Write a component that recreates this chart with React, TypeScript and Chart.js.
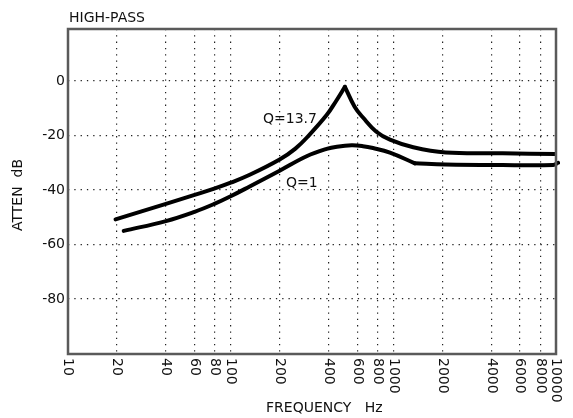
import { useEffect, useRef } from 'react';
import { Chart, registerables } from 'chart.js';

Chart.register(...registerables);

const xTickValues = [10, 20, 40, 60, 80, 100, 200, 400, 600, 800, 1000, 2000, 4000, 6000, 8000, 10000];
const yTickValues = [-80, -60, -40, -20, 0];

// Q = 13.7 curve (peak is a cusp at index q137PeakIndex)
const q137Freq = [19.6, 40, 60, 80, 100, 130, 200, 250, 300, 389, 443, 504, 578, 653, 786, 953, 1326, 2100, 4700, 10000];
const q137Db = [-50.8, -45.1, -41.8, -39.4, -37.3, -34.5, -28.8, -24.8, -20.2, -12.5, -7.5, -2.1, -9.4, -13.5, -18.6, -21.5, -24.3, -26.2, -26.5, -26.8];
const q137PeakIndex = 11;

// Q = 1 curve (corner at index q1KinkIndex)
const q1Freq = [22, 40, 60, 80, 100, 130, 200, 293, 389, 450, 554, 650, 750, 953, 1357, 2100, 4700, 9600, 10300];
const q1Db = [-55.0, -51.4, -48.0, -45.0, -42.3, -38.8, -32.9, -27.6, -24.9, -24.1, -23.6, -23.9, -24.6, -26.3, -30.2, -30.6, -30.8, -30.8, -30.0];
const q1KinkIndex = 14;

const FONT = '"DejaVu Sans", sans-serif';
const TEXT = '#111';

const toPoints = (fs: number[], ds: number[], from: number, to: number) =>
  fs.slice(from, to).map((f, i) => ({ x: f, y: ds[from + i] }));

const textPlugin = {
  id: 'textPlugin',
  afterDraw(chart: any) {
    const { ctx, chartArea } = chart;
    const xs = chart.scales.x;
    ctx.save();
    ctx.strokeStyle = '#5a5a5a';
    ctx.lineWidth = 2.5;
    ctx.strokeRect(chartArea.left, chartArea.top, chartArea.right - chartArea.left, chartArea.bottom - chartArea.top);

    ctx.fillStyle = TEXT;
    ctx.font = `14px ${FONT}`;
    xTickValues.forEach((v) => {
      const px = xs.getPixelForValue(v);
      ctx.save();
      ctx.translate(px, chartArea.bottom + 4);
      ctx.rotate(Math.PI / 2);
      ctx.textAlign = 'left';
      ctx.textBaseline = 'middle';
      ctx.fillText(String(v), 0, 0);
      ctx.restore();
    });

    ctx.textAlign = 'left';
    ctx.textBaseline = 'middle';
    ctx.fillText('HIGH-PASS', 69, 18);
    ctx.fillText('FREQUENCY   Hz', 266, 408);
    ctx.fillText('Q=13.7', 263, 119);
    ctx.fillText('Q=1', 286, 183);

    ctx.save();
    ctx.translate(18, 195);
    ctx.rotate(-Math.PI / 2);
    ctx.textAlign = 'center';
    ctx.textBaseline = 'middle';
    ctx.fillText('ATTEN  dB', 0, 0);
    ctx.restore();

    ctx.restore();
  },
};

const lineStyle = {
  borderColor: '#000',
  borderWidth: 4,
  pointRadius: 0,
  tension: 0.4,
  borderCapStyle: 'round' as const,
  borderJoinStyle: 'round' as const,
  fill: false,
};

export default function App() {
  const ref = useRef<HTMLCanvasElement | null>(null);

  useEffect(() => {
    if (!ref.current) return;
    const chart = new Chart(ref.current, {
      type: 'line',
      data: {
        datasets: [
          { label: 'Q=13.7', data: toPoints(q137Freq, q137Db, 0, q137PeakIndex + 1), ...lineStyle },
          { label: 'Q=13.7 b', data: toPoints(q137Freq, q137Db, q137PeakIndex, q137Freq.length), ...lineStyle },
          { label: 'Q=1', data: toPoints(q1Freq, q1Db, 0, q1KinkIndex + 1), ...lineStyle },
          {
            label: 'Q=1 b',
            data: toPoints(q1Freq, q1Db, q1KinkIndex, q1Freq.length),
            ...lineStyle,
            clip: { left: 0, top: 0, right: 4, bottom: 0 },
          },
        ],
      },
      options: {
        animation: false,
        responsive: false,
        devicePixelRatio: 1,
        layout: { padding: { left: 0, right: 17, top: 29, bottom: 0 } },
        plugins: { legend: { display: false }, tooltip: { enabled: false } },
        scales: {
          x: {
            type: 'logarithmic',
            min: 10,
            max: 10000,
            afterBuildTicks: (s: any) => {
              s.ticks = xTickValues.map((v) => ({ value: v }));
            },
            afterFit: (s: any) => {
              s.height = 64;
            },
            ticks: { display: false },
            grid: {
              drawTicks: false,
              lineWidth: 1.2,
              color: (c: any) => (c.tick && (c.tick.value === 10 || c.tick.value === 10000) ? 'rgba(0,0,0,0)' : '#222'),
            },
            border: { display: false, dash: [1.3, 5] },
          },
          y: {
            type: 'linear',
            min: -100.2,
            max: 19.1,
            afterBuildTicks: (s: any) => {
              s.ticks = yTickValues.map((v) => ({ value: v }));
            },
            afterFit: (s: any) => {
              s.width = 68;
            },
            ticks: {
              padding: 3,
              color: TEXT,
              font: { family: FONT, size: 14 },
              callback: (v: any) => String(v),
            },
            grid: { drawTicks: false, lineWidth: 1.2, color: '#222' },
            border: { display: false, dash: [1.3, 5] },
          },
        },
      },
      plugins: [textPlugin],
    });
    return () => chart.destroy();
  }, []);

  return (
    <div style={{ position: 'fixed', left: 0, top: 0, width: 573, height: 418, background: '#fff' }}>
      <canvas ref={ref} width={573} height={418} />
    </div>
  );
}
